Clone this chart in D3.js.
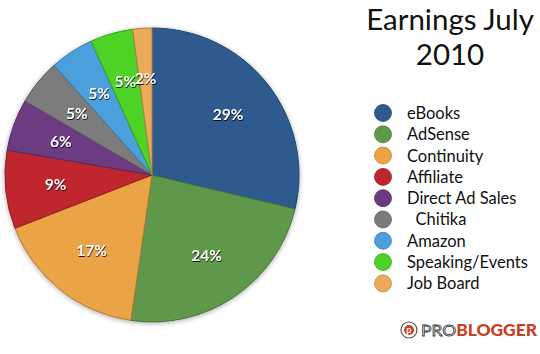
<!DOCTYPE html>
<html>
<head>
<meta charset="utf-8">
<script src="https://cdn.jsdelivr.net/npm/d3@7"></script>
<style>
  body { margin: 0; background: #fff; }
  svg text { font-family: Lato, "Open Sans", sans-serif; }
</style>
</head>
<body>
<svg id="chart" width="540" height="354"></svg>
<script>
// data (share of earnings, %)
var categories = ["eBooks", "AdSense", "Continuity", "Affiliate", "Direct Ad Sales", "  Chitika", "Amazon", "Speaking/Events", "Job Board"];
var shares = [28.7, 23.6, 16.8, 8.6, 5.7, 5.0, 4.8, 4.7, 2.1];
var shareLabels = ["29%", "24%", "17%", "9%", "6%", "5%", "5%", "5%", "2%"];
var colors = ["#2e5a8d", "#5e984b", "#eaa444", "#c0262f", "#6d3a82", "#7b7b7b", "#4c9fdb", "#4dd225", "#eaaa5a"];
var titleLines = ["Earnings July", "2010"];

var svg = d3.select("#chart");
var cx = 152, cy = 175, radius = 147;

var defs = svg.append("defs");
var shadow = defs.append("filter").attr("id", "shadow")
  .attr("x", "-20%").attr("y", "-20%").attr("width", "140%").attr("height", "140%");
shadow.append("feDropShadow").attr("dx", 0).attr("dy", 1).attr("stdDeviation", 2.5)
  .attr("flood-color", "#000").attr("flood-opacity", 0.35);

var txtShadow = defs.append("filter").attr("id", "txtshadow")
  .attr("x", "-30%").attr("y", "-30%").attr("width", "160%").attr("height", "160%");
txtShadow.append("feDropShadow").attr("dx", 0.6).attr("dy", 1).attr("stdDeviation", 0.6)
  .attr("flood-color", "#000").attr("flood-opacity", 0.9);

var color = d3.scaleOrdinal().domain(categories).range(colors);

var pie = d3.pie().sort(null).value(d => d.value);
var arcs = pie(categories.map((c, i) => ({ name: c, value: shares[i], label: shareLabels[i] })));

var arc = d3.arc().innerRadius(0).outerRadius(radius);
var labelArc = d3.arc().innerRadius(97).outerRadius(97);

var g = svg.append("g").attr("transform", "translate(" + cx + "," + cy + ")");

g.append("g").attr("filter", "url(#shadow)")
  .selectAll("path")
  .data(arcs)
  .join("path")
    .attr("d", arc)
    .attr("fill", d => color(d.data.name))
    .attr("stroke", d => d3.color(color(d.data.name)).darker(0.8))
    .attr("stroke-width", 1)
    .attr("stroke-linejoin", "round");

g.append("g")
  .selectAll("text")
  .data(arcs)
  .join("text")
    .attr("transform", d => "translate(" + labelArc.centroid(d) + ")")
    .attr("text-anchor", "middle")
    .attr("dy", "0.35em")
    .attr("fill", "#fff")
    .attr("font-size", 15.5)
    .attr("font-weight", 600)
    .attr("filter", "url(#txtshadow)")
    .text(d => d.data.label);

// title
svg.append("g").selectAll("text")
  .data(titleLines)
  .join("text")
    .attr("x", 450)
    .attr("y", (d, i) => 30 + i * 35)
    .attr("text-anchor", "middle")
    .attr("font-size", 29.5)
    .attr("fill", "#111")
    .text(d => d);

// legend
var legend = svg.append("g").attr("transform", "translate(383,113)");
var rows = legend.selectAll("g")
  .data(categories)
  .join("g")
    .attr("transform", (d, i) => "translate(0," + (i * 21.3) + ")");

rows.append("circle")
  .attr("r", 8.5)
  .attr("fill", d => color(d))
  .attr("stroke", d => d3.color(color(d)).darker(0.6))
  .attr("stroke-width", 0.8);

rows.append("text")
  .attr("x", 24)
  .attr("dy", "0.36em")
  .attr("font-size", 16.5)
  .attr("fill", "#111")
  .style("white-space", "pre")
  .text(d => d);

// problogger logo
var logo = svg.append("g").attr("transform", "translate(409,330)");
logo.append("circle").attr("r", 8).attr("fill", "none").attr("stroke", "#555").attr("stroke-width", 1.2);
logo.append("circle").attr("r", 5).attr("fill", "#c8401f");
logo.append("text").attr("x", -2.8).attr("y", 3.2).attr("font-size", 9).attr("font-weight", 700)
  .attr("fill", "#fff").text("p");
var brand = logo.append("text").attr("x", 12).attr("y", 6).attr("font-size", 16)
  .attr("textLength", 116).attr("lengthAdjust", "spacingAndGlyphs")
  .attr("font-family", "Roboto, sans-serif");
brand.append("tspan").attr("fill", "#fff").attr("stroke", "#333").attr("stroke-width", 0.8)
  .attr("font-weight", 400).text("PRO");
brand.append("tspan").attr("fill", "#c8401f").attr("font-weight", 900).text("BLOGGER");
</script>
</body>
</html>
